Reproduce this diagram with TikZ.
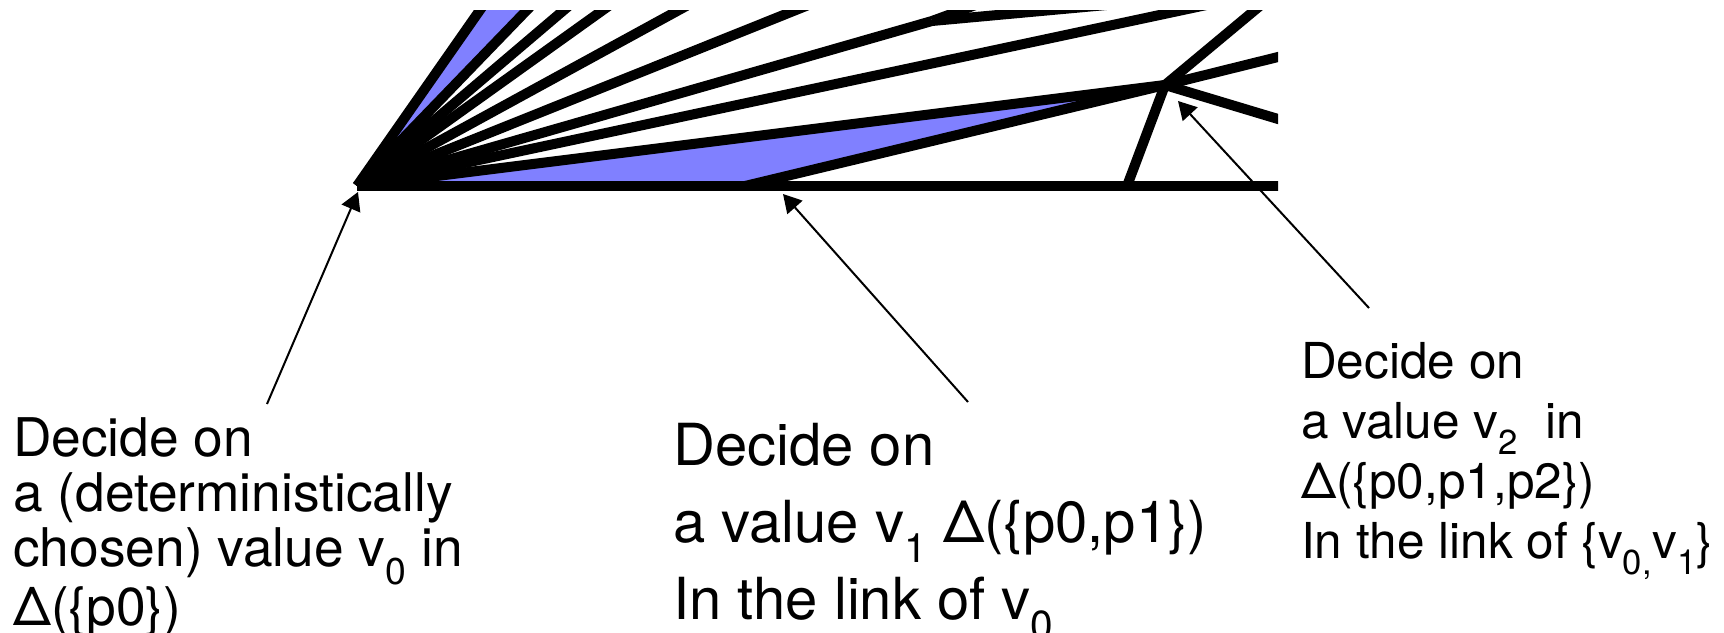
\documentclass[tikz,border=0pt]{standalone}
\usepackage{fontspec}
\setmainfont{TeX Gyre Heros}
\usetikzlibrary{arrows.meta,calc}
\definecolor{fanblue}{RGB}{128,128,255}
\begin{document}
\begin{tikzpicture}[x=1pt,y=-1pt,
  edge/.style={line width=10pt, black},
  bluefill/.style={fill=fanblue},
  pointer/.style={line width=2pt, -{Triangle[length=18pt,width=20pt]}},
  caption/.style={align=left, inner sep=0pt, anchor=base west}
]
\useasboundingbox (0,0) rectangle (1724,632);
% vertices
\coordinate (v0) at (357,186);
\coordinate (v1) at (745,186);
\coordinate (X) at (1165,85);
\coordinate (F) at (1127,186);
\coordinate (W) at (932,21);
\coordinate (E) at (1320,186);
\coordinate (T1) at (480,10);
\coordinate (T2) at (527,10);
\coordinate (T3) at (564,10);
\coordinate (T4) at (603,10);
\coordinate (T5) at (679,10);
\coordinate (T6) at (796,10);
\coordinate (T7) at (1183,10);
\coordinate (W1) at (962,10);
\coordinate (W2) at (1052,10);
\coordinate (R1) at (1255,10);
\coordinate (R2) at (1278,57);
\coordinate (R3) at (1278,119);
\begin{scope}
\clip (0,10) rectangle (1278,632);
\fill[bluefill] (v0) -- ($(v0)!1.2!(T1)$) -- ($(v0)!1.2!(T2)$) -- cycle;
\fill[bluefill] (v0) -- (v1) -- (X) -- cycle;
\foreach \t in {T1,T2,T3,T4,T5,T6,T7}
  \draw[edge] (v0) -- ($(v0)!1.3!(\t)$);
\draw[edge] (v0) -- (W);
\draw[edge] (W) -- ($(W)!2!(W1)$);
\draw[edge] (W) -- ($(W)!2!(W2)$);
\draw[edge] (v0) -- (X);
\draw[edge] (v1) -- (X);
\draw[edge] (F) -- (X);
\draw[edge] (X) -- ($(X)!1.5!(R1)$);
\draw[edge] (X) -- ($(X)!1.5!(R2)$);
\draw[edge] (X) -- ($(X)!1.5!(R3)$);
\draw[edge] (v0) -- (E);
\end{scope}
% texts (anchored at the baseline of the last line)
\node[caption, font=\fontsize{53.3}{55}\selectfont] (t0) at (13,625)
  {Decide on\\a (deterministically\\chosen) value v\textsubscript{0} in\\Δ(\{p0\})};
\node[caption, font=\fontsize{58}{77}\selectfont] (t1) at (673,619)
  {Decide on\\a value v\textsubscript{1} Δ(\{p0,p1\})\\In the link of v\textsubscript{0}};
\node[caption, font=\fontsize{49.5}{60}\selectfont] (t2) at (1301,558)
  {Decide on\\a value v\textsubscript{2}~ in\\Δ(\{p0,p1,p2\})\\In the link of \{v\textsubscript{0,}v\textsubscript{1}\}};
% arrows
\coordinate (a0s) at (267,404);
\coordinate (a0e) at (358,192);
\coordinate (a1s) at (968,402);
\coordinate (a1e) at (783,194);
\coordinate (a2s) at (1369,308);
\coordinate (a2e) at (1178,101);
\draw[pointer] (a0s) -- (a0e);
\draw[pointer] (a1s) -- (a1e);
\draw[pointer] (a2s) -- (a2e);
\end{tikzpicture}
\end{document}
